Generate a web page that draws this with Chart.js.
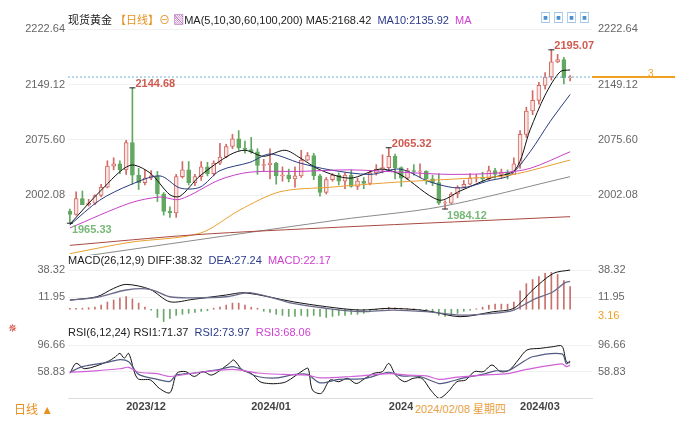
<!DOCTYPE html>
<html><head><meta charset="utf-8">
<script src="https://cdn.jsdelivr.net/npm/chart.js@4.4.1/dist/chart.umd.min.js"></script>
<style>
body{margin:0;width:675px;height:423px;background:#fff;position:relative;overflow:hidden;font-family:"Liberation Sans","Noto Sans CJK SC",sans-serif;}
canvas{position:absolute;left:0;}
.t{position:absolute;font-size:11px;white-space:nowrap;color:#222;}
</style></head><body>
<canvas id="c1" style="top:0" width="675" height="258"></canvas>
<canvas id="c2" style="top:258px" width="675" height="70"></canvas>
<canvas id="c3" style="top:328px" width="675" height="95"></canvas>
<div class="t" style="left:68px;top:11px">现货黄金 <span style="color:#e89020">【日线】</span><span style="color:#e89020">⊖</span> <span style="color:#a040a0">▧</span>MA(5,10,30,60,100,200) MA5:2168.42 &nbsp;<span style="color:#2a3a8a">MA10:2135.92</span> &nbsp;<span style="color:#d040d0">MA</span></div>
<div class="t" style="left:540px;top:9px;color:#4a90d0;letter-spacing:2px">▣▣▣▣</div>
<div class="t" style="left:68px;top:254px">MACD(26,12,9) DIFF:38.32 &nbsp;<span style="color:#2a3a8a">DEA:27.24</span> &nbsp;<span style="color:#d040d0">MACD:22.17</span></div>
<div class="t" style="left:68px;top:326px">RSI(6,12,24) RSI1:71.37 &nbsp;<span style="color:#2a3a8a">RSI2:73.97</span> &nbsp;<span style="color:#d040d0">RSI3:68.06</span></div>
<div class="t" style="left:8px;top:322px;color:#d04030">✵</div>
<div class="t" style="left:14px;top:400px;color:#e89020;font-size:12px">日线 ▲</div>
<div class="t" style="left:413px;top:400px;color:#e8a040;background:#fff;font-size:11px;padding:0 2px">2024/02/08 星期四</div>
<div style="position:absolute;left:592px;top:76px;width:83px;height:2px;background:#f0a020"></div>
<div class="t" style="left:648px;top:68px;color:#f0a020;font-size:10px">3</div>
<div class="t" style="left:598px;top:309px;color:#f0a020;font-size:11px">3.16</div>
<script>
// ---------- data ----------
const dates=["11/20","11/21","11/22","11/23","11/24","11/27","11/28","11/29","11/30","12/01","12/04","12/05","12/06","12/07","12/08","12/11","12/12","12/13","12/14","12/15","12/18","12/19","12/20","12/21","12/22","12/26","12/27","12/28","12/29","01/02","01/03","01/04","01/05","01/08","01/09","01/10","01/11","01/12","01/15","01/16","01/17","01/18","01/19","01/22","01/23","01/24","01/25","01/26","01/29","01/30","01/31","02/01","02/02","02/05","02/06","02/07","02/08","02/09","02/12","02/13","02/14","02/15","02/16","02/19","02/20","02/21","02/22","02/23","02/26","02/27","02/28","02/29","03/01","03/04","03/05","03/06","03/07","03/08","03/11","03/12","03/13"];
const open =[1981,1977,1998,1990,1992,2002,2013,2041,2044,2036,2072,2029,2019,2025,2028,2004,1981,1979,2027,2036,2019,2027,2040,2031,2045,2053,2067,2077,2065,2063,2060,2042,2043,2045,2028,2029,2024,2028,2049,2055,2028,2006,2023,2029,2021,2029,2014,2021,2018,2032,2037,2039,2054,2039,2025,2035,2034,2034,2024,2019,1992,1992,2004,2013,2017,2025,2025,2024,2035,2030,2033,2030,2044,2083,2114,2128,2148,2159,2179,2182,2158];
const high =[1984,2007,2008,1997,2003,2017,2048,2052,2048,2075,2144.68,2038,2036,2035,2034,2006,1987,2030,2047,2047,2030,2047,2046,2048,2071,2070,2083,2088,2074,2079,2064,2050,2064,2046,2040,2037,2040,2062,2059,2058,2030,2026,2031,2032,2032,2036,2025,2026,2035,2043,2056,2065.32,2057,2040,2038,2043,2044,2035,2029,2031,1995,2006,2015,2022,2031,2030,2033,2041,2038,2037,2036,2052,2088,2119,2141,2152,2165,2195.07,2189,2185,2161];
const low  =[1965.33,1976,1990,1988,1990,2000,2012,2036,2031,2030,2017,2010,2016,2023,1994,1976,1973,1973,2025,2016,2015,2022,2028,2028,2043,2052,2064,2062,2058,2058,2030,2034,2024,2017,2021,2020,2013,2026,2048,2023,2001,2004,2021,2016,2011,2013,2010,2011,2016,2029,2032,2034,2024,2014,2023,2029,2026,2017,2015,1990,1984.12,1991,1999,2012,2016,2020,2020,2023,2025,2025,2024,2030,2038,2079,2109,2123,2143,2155,2178,2150,2154];
const close=[1977,1998,1990,1992,2002,2013,2041,2044,2036,2072,2029,2019,2025,2028,2004,1981,1979,2027,2036,2019,2027,2040,2031,2045,2053,2067,2077,2065,2063,2060,2042,2043,2045,2028,2029,2024,2028,2049,2055,2028,2006,2023,2029,2021,2029,2014,2021,2018,2032,2037,2039,2054,2039,2025,2035,2034,2034,2024,2019,1992,1992,2004,2013,2017,2025,2025,2024,2035,2030,2033,2030,2044,2083,2114,2128,2148,2159,2179,2182,2158,2159];
// moving averages: [index, value]
const ma5  =[[0,1964],[5,2009],[9.6,2042],[12.8,2032],[16,2003],[17.6,2001],[20.8,2028],[25.6,2056],[28,2062],[31,2054],[34.4,2062],[36.8,2052],[40,2036],[44.8,2025],[49.6,2037],[52.8,2030],[59,1996],[62.4,2008],[67.2,2025],[71.2,2036],[73.6,2089],[76,2135],[78.4,2166],[80,2168.42]];
const ma10 =[[0,1963],[4.8,1996],[9.6,2016],[14.4,2028],[17.6,2012],[20.8,2013],[24,2035],[28.8,2046],[32,2057],[36.8,2045],[41.6,2036],[48,2030],[52.8,2037],[57.6,2020],[62.4,2012],[67.2,2022],[70.4,2029],[73.6,2060],[76.8,2100],[80,2135.92]];
const ma30 =[[0,1959],[9.6,1992],[14.4,2000],[17.6,1997],[24,2023],[28.8,2033],[36.8,2034],[44.8,2036],[52.8,2033],[60.8,2030],[68.8,2032],[73.6,2038],[80,2060]];
const ma60 =[[0,1925],[9.6,1940],[20.8,1952],[27.2,1983],[33.6,2007],[41.6,2013],[52.8,2020],[64,2025],[70.4,2029],[80,2049]];
const ma100=[[0,1919],[43.2,1970],[59.2,1987],[80,2027]];
const ma200=[[0,1936],[20,1950],[43,1960],[80,1974]];
const lastPrice=2159;
const priceTicks=[2222.64,2149.12,2075.60,2002.08];
const macdHist=[1,1,1,1.5,2,4,7,9,11,12.5,10,6,2,-1,-8,-12,-9,-6,-5,-4,-3,-2,-1.5,1,2,4,6,6,4,2,1,-2,-3,-5,-6,-7,-7,-6,-7,-6,-7,-8,-7,-6,-6,-5,-5,-4,-2,-1,1,2,1.5,1,0.5,0.5,-0.5,-1,-3,-6,-7,-6,-4,-2,-1,0.5,2,4,5,5,5,7,18,25,29,32,35,36,34,28,22.17];
const dif=[[0,9],[4.3,12.2],[7,20.4],[9,24.3],[12.8,19.5],[16,7.3],[19.7,9.7],[25,13.9],[28,16.1],[35.7,7.3],[41,2.5],[46.4,-0.8],[51.2,0.9],[57,-1.4],[62.4,-7.3],[67.7,-2.4],[71,0.9],[74,18.8],[77.3,35],[80,38.32]];
const dea=[[0,9],[4.3,11.5],[9,18.8],[12.8,19.5],[16,12.2],[19.7,11.2],[25,12.2],[29,16.1],[35.7,5.7],[41,0.9],[46.4,-2.4],[51.7,-0.8],[57,-2.4],[62.4,-5.7],[67.7,-4],[71,-0.8],[74,9],[77.3,17.1],[79.2,26],[80,27.24]];
const macdTicks=[38.32,11.95];
const rsi1=[[0,56.5],[1,70.6],[2.4,63],[6,73],[7.3,80],[8,84.8],[8.7,78],[9.4,84.8],[10.8,49.4],[12.9,47],[14.3,35.2],[16,29],[17.1,56.5],[18.5,59],[19.9,52],[21.3,59],[22.7,54],[25.5,70.6],[26.2,75.4],[27.6,61],[29,56.5],[30.4,44.6],[31.8,42],[33.2,42],[34.6,44.6],[37.4,61.2],[38.1,63.5],[38.8,32.8],[40.2,28.1],[41.6,47],[43,44.6],[44.4,49.4],[45.8,42],[47.2,49.4],[48.6,56.5],[50,59],[51,70.6],[52.1,54],[53.5,44.6],[54.9,49.4],[56.3,49.4],[57.7,32.8],[59.1,21],[60.5,30.4],[61.9,44.6],[63.3,47],[64.7,59],[66.1,58.8],[67.5,68.3],[68.9,58.8],[70.3,61.2],[71.7,75.4],[73.1,89.6],[75.2,91.9],[77.3,94.3],[78.7,95],[79.4,73],[80,71.37]];
const rsi2=[[0,58],[2,66],[6,72],[8,76],[9.4,73],[11,55],[14,48],[16,45],[17,54],[20,57],[24,62],[26,66],[28,60],[30,52],[33,50],[36,55],[38,55],[40,43],[43,48],[47,49],[51,58],[53,53],[56,52],[59,42],[60.5,44],[63,50],[66,55],[68,60],[70,60],[72,70],[74,80],[78.7,84],[79.4,70],[80,73.97]];
const rsi3=[[0,58],[4,60],[8,63],[9.4,65],[11,58],[14,56],[16,52],[20,57],[26,62],[30,57],[34,55],[38,54],[40,50],[45,52],[51,56],[54,54],[57,53],[59,48],[62,51],[66,54],[70,56],[73,62],[78.7,70],[79.4,66],[80,68.06]];
const rsiTicks=[96.66,58.83];
const monthTicks=[[9,"2023/12"],[29,"2024/01"],[51,"2024"],[72,"2024/03"]];
const highLow=[[10,2144.68,"high"],[0,1965.33,"low"],[51,2065.32,"high"],[60,1984.12,"low"],[77,2195.07,"high"]];
// ---------- helpers ----------
const UP_B='#d26a64',UP_F='#fbe4e2',DN='#62a862';
const pts=a=>a.map(p=>({x:p[0],y:p[1]}));
const XMIN=-0.3,XMAX=83.5;
function noPad(s){s.paddingTop=0;s.paddingBottom=0;s.paddingLeft=0;s.paddingRight=0;}
function yAxes(min,max,ticks){
  const fit=(w)=>function(s){s.width=w;noPad(s);};
  const tk={color:'#666',font:{size:11,family:'Liberation Sans'},callback:v=>v.toFixed(2)};
  const base={min,max,afterBuildTicks:s=>{s.ticks=ticks.map(v=>({value:v}));},border:{display:false}};
  return {
    y:Object.assign({},base,{position:'left',afterFit:fit(68),grid:{color:'#f1f1f1',drawTicks:false},ticks:Object.assign({},tk,{padding:3})}),
    y2:Object.assign({},base,{position:'right',afterFit:fit(83),grid:{display:false,drawTicks:false},ticks:Object.assign({},tk,{padding:6})})
  };
}
const lineDs=(data,color,w)=>({type:'line',data:pts(data),borderColor:color,borderWidth:w||1,pointRadius:0,tension:0.3,fill:false,yAxisID:'y'});
const xHidden={type:'linear',min:XMIN,max:XMAX,offset:false,display:false,afterFit:s=>{s.height=0;noPad(s);}};
// ---------- main candle chart ----------
const bodies=open.map((o,i)=>{const lo=Math.min(o,close[i]),hi=Math.max(o,close[i]);return {x:i,y:[lo,hi===lo?hi+0.6:hi]};});
const wicks=open.map((o,i)=>({x:i,y:[low[i],high[i]]}));
const up=i=>close[i]>=open[i];
const annot={id:'annot',afterDatasetsDraw(c){
  const g=c.ctx,xs=c.scales.x,ys=c.scales.y;
  g.save();
  const py=ys.getPixelForValue(lastPrice);
  g.strokeStyle='#6fb0d8';g.setLineDash([2,2]);g.lineWidth=1;
  g.beginPath();g.moveTo(c.chartArea.left,py);g.lineTo(c.chartArea.right,py);g.stroke();g.setLineDash([]);
  g.font='bold 11px "Liberation Sans"';
  highLow.forEach(([i,v,k])=>{
    const x=xs.getPixelForValue(i),y=ys.getPixelForValue(v);
    g.strokeStyle='#222';g.beginPath();g.moveTo(x-3,y);g.lineTo(x+3,y);g.stroke();
    if(k==='high'){g.fillStyle='#d05a50';g.textBaseline='bottom';g.fillText(v.toFixed(2),x+3,y+2);}
    else{g.fillStyle='#78b878';g.textBaseline='top';g.fillText(v.toFixed(2),x+2,y+1);}
  });
  g.restore();
}};
new Chart(document.getElementById('c1'),{
  data:{datasets:[
    {type:'bar',data:wicks,barThickness:1,backgroundColor:wicks.map((_,i)=>up(i)?UP_B:DN),yAxisID:'y',grouped:false,order:3},
    {type:'bar',data:bodies,barThickness:4,backgroundColor:bodies.map((_,i)=>up(i)?UP_F:DN),borderColor:bodies.map((_,i)=>up(i)?UP_B:DN),borderWidth:1,borderSkipped:false,yAxisID:'y',grouped:false,order:2},
    Object.assign(lineDs(ma200,'#a84a40'),{order:1}),
    Object.assign(lineDs(ma100,'#8a8a8a'),{order:1}),
    Object.assign(lineDs(ma60,'#e8a030'),{order:1}),
    Object.assign(lineDs(ma30,'#c840c8'),{order:1}),
    Object.assign(lineDs(ma10,'#283a80'),{order:1}),
    Object.assign(lineDs(ma5,'#111'),{order:1})
  ]},
  options:{responsive:false,animation:false,layout:{padding:{top:15,bottom:3}},
    plugins:{legend:{display:false},tooltip:{enabled:false}},
    scales:Object.assign({x:xHidden},yAxes(1923.2,2241.2,priceTicks))},
  plugins:[annot]
});
// ---------- MACD ----------
new Chart(document.getElementById('c2'),{
  data:{datasets:[
    {type:'bar',data:macdHist.map((v,i)=>({x:i,y:v})),barThickness:1,backgroundColor:macdHist.map(v=>v>=0?'#c8706a':'#6aa86a'),yAxisID:'y',order:2},
    Object.assign(lineDs(dea,'#6a6a8a',1.3),{order:1}),
    Object.assign(lineDs(dif,'#111'),{order:1})
  ]},
  options:{responsive:false,animation:false,layout:{padding:{top:5,bottom:3}},
    plugins:{legend:{display:false},tooltip:{enabled:false}},
    scales:Object.assign({x:xHidden},yAxes(-15.4,45.2,macdTicks))}
});
// ---------- RSI ----------
new Chart(document.getElementById('c3'),{
  data:{datasets:[
    lineDs(rsi3,'#d060d8',1.2),lineDs(rsi2,'#505a80',1.2),lineDs(rsi1,'#111')
  ]},
  options:{responsive:false,animation:false,layout:{padding:{top:5}},
    plugins:{legend:{display:false},tooltip:{enabled:false}},
    scales:Object.assign({x:{type:'linear',min:XMIN,max:XMAX,offset:false,position:'bottom',
      afterFit:s=>{s.height=25;noPad(s);},
      afterBuildTicks:s=>{s.ticks=monthTicks.map(m=>({value:m[0]}));},
      grid:{display:false,drawTicks:false},border:{color:'#ddd'},
      ticks:{align:'start',padding:2,color:'#444',autoSkip:false,maxRotation:0,font:{size:11,weight:'bold',family:'Liberation Sans'},
        callback:(v)=>{const m=monthTicks.find(t=>t[0]===v);return m?m[1]:'';}}}},
      yAxes(21.5,113.7,rsiTicks))}
});
</script>
</body></html>
